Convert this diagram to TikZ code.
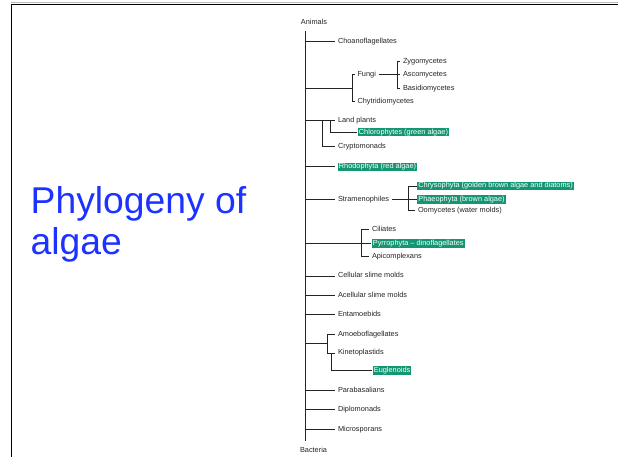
\documentclass[tikz,border=0pt]{standalone}
\usepackage{fontspec}
\setmainfont{Liberation Sans}
\definecolor{titleblue}{RGB}{28,50,255}
\definecolor{boxgreen}{RGB}{20,150,115}
\definecolor{ink}{RGB}{35,35,35}
\begin{document}
\begin{tikzpicture}[x=1pt,y=-1pt,
  lbl/.style={font=\fontsize{7.35}{8}\selectfont, text=ink, inner xsep=1pt, inner ysep=0pt,
              outer xsep=2pt, outer ysep=0pt, text height=5.3pt, text depth=1.5pt, anchor=west},
  hl/.style={lbl, fill=boxgreen, text=white, inner xsep=1.2pt, inner ysep=0.9pt, outer xsep=0.5pt},
  edge/.style={draw=ink, line width=0.8pt},
  trunk/.style={draw=ink, line width=1pt},
  ttl/.style={font=\fontsize{37.3}{41}\selectfont, text=titleblue, inner sep=0pt, anchor=base west}]
\useasboundingbox (0,0) rectangle (618,457);
% frame
\draw[gray!55, line width=1pt] (11,2.8) -- (618,2.8);
\draw[black, line width=1pt] (11,4.2) -- (618,4.2);
\draw[black, line width=1pt] (11.3,3.7) -- (11.3,457);
% title
\node[ttl] (t1) at (30.5,213) {Phylogeny of};
\node[ttl] (t2) at (30.5,254) {algae};
% trunk
\node[lbl, anchor=center] (animals) at (314,22.5) {Animals};
\node[lbl, anchor=center] (bacteria) at (313.5,450.5) {Bacteria};
\coordinate (top) at (305,31.5);
\coordinate (bot) at (305,440.5);
\draw[trunk] (top) -- (bot);
% Choanoflagellates
\node[lbl] (choano) at (335,41.7) {Choanoflagellates};
\draw[edge] (choano.west -| top) -- (choano.west);
% Fungi group
\coordinate (fj) at (352.5,88);
\coordinate (fv) at (397.5,0);
\node[lbl] (fungi) at (354.5,74.7) {Fungi};
\node[lbl] (chytr) at (354.5,101.2) {Chytridiomycetes};
\node[lbl] (zygo) at (400,61.2) {Zygomycetes};
\node[lbl] (asco) at (400,74.7) {Ascomycetes};
\node[lbl] (basid) at (400,88.2) {Basidiomycetes};
\draw[edge] (fj -| top) -- (fj);
\draw[edge] (fungi.west) -| (fj) |- (chytr.west);
\draw[edge] (fungi.east) -- (asco.west);
\draw[edge] (zygo.west) -- (zygo.west -| fv) -- (basid.west -| fv) -- (basid.west);
% Land plants group
\coordinate (lx1) at (322,0);
\coordinate (lx2) at (330,0);
\node[lbl] (land) at (335,120.9) {Land plants};
\node[hl] (chloro) at (357.2,132.2) {Chlorophytes (green algae)};
\node[lbl] (crypto) at (335,146.2) {Cryptomonads};
\draw[edge] (land.west -| top) -- (land.west);
\draw[edge] (land.west -| lx1) -- (crypto.west -| lx1) -- (crypto.west);
\draw[edge] (land.west -| lx2) -- (chloro.west -| lx2) -- (chloro.west);
% Rhodophyta
\node[hl] (rhodo) at (337.2,166.9) {Rhodophyta (red algae)};
\draw[edge, shorten >=2pt] (rhodo.west -| top) -- (rhodo.west);
% Stramenophiles
\coordinate (sx) at (408.3,0);
\node[lbl] (stram) at (335,199.5) {Stramenophiles};
\node[hl] (chrys) at (416.7,186) {Chrysophyta (golden brown algae and diatoms)};
\node[hl] (phaeo) at (416.7,199.5) {Phaeophyta (brown algae)};
\node[lbl] (oomy) at (415,210.7) {Oomycetes (water molds)};
\draw[edge] (stram.west -| top) -- (stram.west);
\draw[edge] (stram.east) -- (stram.east -| sx);
\draw[edge] (chrys.west) -- (chrys.west -| sx) -- (oomy.west -| sx) -- (oomy.west);
\draw[edge] (phaeo.west -| sx) -- (phaeo.west);
% Ciliates group
\coordinate (cx) at (361.7,0);
\node[lbl] (cil) at (369,229.5) {Ciliates};
\node[hl] (pyrro) at (371.2,243.7) {Pyrrophyta -- dinoflagellates};
\node[lbl] (apico) at (369,256.2) {Apicomplexans};
\draw[edge] (pyrro.west -| top) -- (pyrro.west);
\draw[edge] (cil.west) -- (cil.west -| cx) -- (apico.west -| cx) -- (apico.west);
% simple branches
\node[lbl] (cell) at (335,275.9) {Cellular slime molds};
\node[lbl] (acell) at (335,295.2) {Acellular slime molds};
\node[lbl] (entam) at (335,314.5) {Entamoebids};
\draw[edge] (cell.west -| top) -- (cell.west);
\draw[edge] (acell.west -| top) -- (acell.west);
\draw[edge] (entam.west -| top) -- (entam.west);
% Amoeboflagellates group
\coordinate (aj) at (327.3,343.5);
\coordinate (ax2) at (331.7,0);
\node[lbl] (amoebo) at (335,334.2) {Amoeboflagellates};
\node[lbl] (kineto) at (335,352.9) {Kinetoplastids};
\node[hl] (eugl) at (372.2,370.2) {Euglenoids};
\draw[edge] (aj -| top) -- (aj);
\draw[edge] (amoebo.west) -- (amoebo.west -| aj) -- (kineto.west -| aj) -- (kineto.west);
\draw[edge] (kineto.west -| ax2) -- (eugl.west -| ax2) -- (eugl.west);
% lower branches
\node[lbl] (parab) at (335,390.2) {Parabasalians};
\node[lbl] (diplo) at (335,409.5) {Diplomonads};
\node[lbl] (micro) at (335,429.5) {Microsporans};
\draw[edge] (parab.west -| top) -- (parab.west);
\draw[edge] (diplo.west -| top) -- (diplo.west);
\draw[edge] (micro.west -| top) -- (micro.west);
\end{tikzpicture}
\end{document}
